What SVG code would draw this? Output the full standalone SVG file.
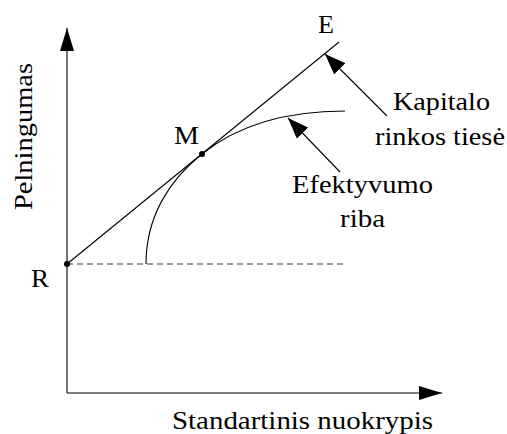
<svg xmlns="http://www.w3.org/2000/svg" width="507" height="434" viewBox="0 0 507 434">
<defs>
<style>
.ln{fill:none;stroke:#000;stroke-width:1.1}
.dash{fill:none;stroke:#333;stroke-width:1;stroke-dasharray:6 4}
</style>
<marker id="ax" viewBox="0 0 23 14" refX="23" refY="7" markerWidth="23" markerHeight="14" markerUnits="userSpaceOnUse" orient="auto">
<path d="M0,0 L23,7 L0,14 Z" fill="#000"/>
</marker>
<marker id="pt" viewBox="0 0 21 16" refX="21" refY="8" markerWidth="21" markerHeight="16" markerUnits="userSpaceOnUse" orient="auto">
<path d="M0,0 L21,8 L0,16 Z" fill="#000"/>
</marker>
</defs>
<g id="connectors">
<line class="ln" x1="67" y1="393" x2="67" y2="28" marker-end="url(#ax)"/>
<line class="ln" x1="67" y1="393" x2="442" y2="393" marker-end="url(#ax)"/>
<line class="dash" x1="67" y1="264" x2="343" y2="264"/>
<line class="ln" x1="67" y1="264" x2="339" y2="42"/>
<path class="ln" d="M146,264 C146,218 168,181 202,154 C228,133 270,111 345,111"/>
<line class="ln" x1="387" y1="116" x2="325" y2="54" marker-end="url(#pt)"/>
<line class="ln" x1="340" y1="172" x2="288" y2="118" marker-end="url(#pt)"/>
</g>
<g id="node-R">
<circle cx="67" cy="264" r="3"/>
<text font-family="Liberation Serif" font-size="26" x="31" y="287" textLength="18" lengthAdjust="spacingAndGlyphs">R</text>
</g>
<g id="node-M">
<circle cx="202" cy="154" r="3"/>
<text font-family="Liberation Serif" font-size="26" x="174" y="144" textLength="25" lengthAdjust="spacingAndGlyphs">M</text>
</g>
<g id="node-E">
<text font-family="Liberation Serif" font-size="26" x="318" y="33" textLength="16" lengthAdjust="spacingAndGlyphs">E</text>
</g>
<g id="label-kapitalo">
<text font-family="Liberation Serif" font-size="26" x="393" y="110" textLength="97" lengthAdjust="spacingAndGlyphs">Kapitalo</text>
<text font-family="Liberation Serif" font-size="26" x="375" y="145" textLength="130" lengthAdjust="spacingAndGlyphs">rinkos tiesė</text>
</g>
<g id="label-efektyvumo">
<text font-family="Liberation Serif" font-size="26" x="292" y="193" textLength="141" lengthAdjust="spacingAndGlyphs">Efektyvumo</text>
<text font-family="Liberation Serif" font-size="26" x="340" y="227" textLength="45" lengthAdjust="spacingAndGlyphs">riba</text>
</g>
<g id="axis-labels">
<text font-family="Liberation Serif" font-size="26" x="172" y="429" textLength="261" lengthAdjust="spacingAndGlyphs">Standartinis nuokrypis</text>
<text font-family="Liberation Serif" font-size="26" transform="translate(32,210) rotate(-90)" x="0" y="0" textLength="147" lengthAdjust="spacingAndGlyphs">Pelningumas</text>
</g>
</svg>
